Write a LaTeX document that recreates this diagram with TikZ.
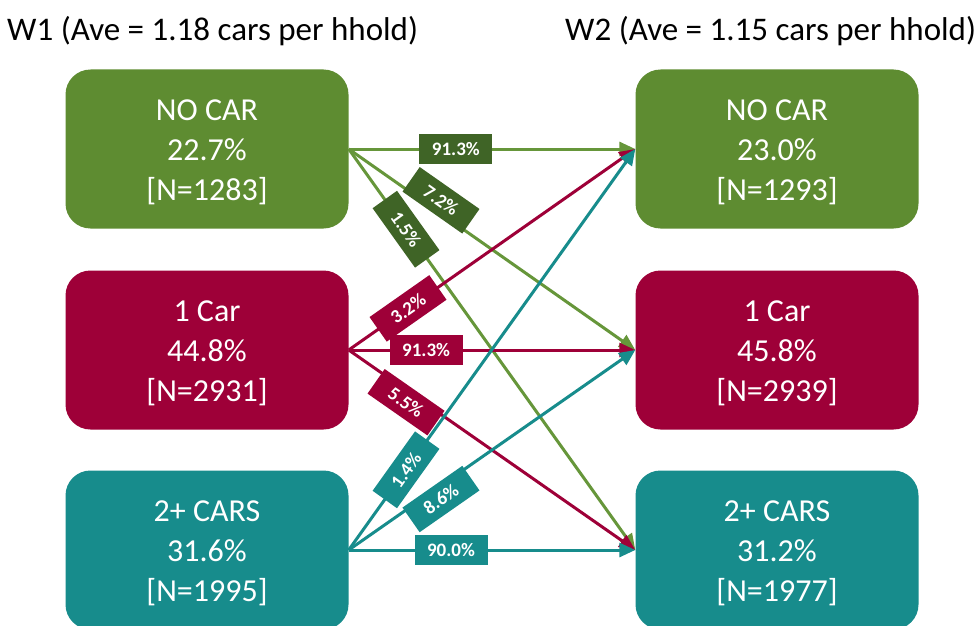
\documentclass[tikz,border=0pt]{standalone}
\usepackage{fontspec}
\setmainfont{Carlito}
\usetikzlibrary{arrows.meta}
\definecolor{cgreen}{HTML}{5E8C31}
\definecolor{cgreenln}{HTML}{66963A}
\definecolor{cgreendk}{HTML}{3F6426}
\definecolor{cred}{HTML}{9E0038}
\definecolor{cteal}{HTML}{178C8C}
\newcommand\toppad{\rule{0pt}{28pt}}
\begin{document}
\begin{tikzpicture}[x=1pt,y=-1pt,
  catbox/.style={rounded corners=25pt, minimum width=283pt, minimum height=159pt,
    text=white, font=\fontsize{32}{40}\selectfont, align=center, inner sep=0pt},
  flow/.style={line width=3pt, -{Triangle[length=16pt,width=14pt]}},
  pct/.style={fill=#1, text=white, font=\fontsize{19}{20}\selectfont\bfseries,
    minimum width=73pt, minimum height=30pt, inner sep=0pt, sloped},
  ttl/.style={font=\fontsize{33}{38}\selectfont, anchor=west, inner sep=0pt}]
\useasboundingbox (0,0) rectangle (977,626);
\fill[white] (0,0) rectangle (977,626);
% titles
\node[ttl] (t1) at (7,31) {W1 (Ave = 1.18 cars per hhold)};
\node[ttl] (t2) at (565,31) {W2 (Ave = 1.15 cars per hhold)};
% boxes
\node[catbox, fill=cgreen] (l1) at (207,149) {\toppad NO CAR\\22.7\%\\{[N=1283]}};
\node[catbox, fill=cred]   (l2) at (207,350) {\toppad 1 Car\\44.8\%\\{[N=2931]}};
\node[catbox, fill=cteal]  (l3) at (207,550) {\toppad 2+ CARS\\31.6\%\\{[N=1995]}};
\node[catbox, fill=cgreen] (r1) at (777,149) {\toppad NO CAR\\23.0\%\\{[N=1293]}};
\node[catbox, fill=cred]   (r2) at (777,350) {\toppad 1 Car\\45.8\%\\{[N=2939]}};
\node[catbox, fill=cteal]  (r3) at (777,550) {\toppad 2+ CARS\\31.2\%\\{[N=1977]}};
% flows
\draw[flow, cgreenln] (l1.east) -- (r1.west);
\draw[flow, cgreenln] (l1.east) -- (r2.west);
\draw[flow, cgreenln] (l1.east) -- (r3.west);
\draw[flow, cred] (l2.east) -- (r1.west);
\draw[flow, cred] (l2.east) -- (r2.west);
\draw[flow, cred] (l2.east) -- (r3.west);
\draw[flow, cteal] (l3.east) -- (r1.west);
\draw[flow, cteal] (l3.east) -- (r2.west);
\draw[flow, cteal] (l3.east) -- (r3.west);
% labels
\path (l1.east) -- node[pct=cgreendk, pos=0.374] (g1) {91.3\%} (r1.west);
\path (l1.east) -- node[pct=cgreendk, pos=0.30, yshift=11pt] (g2) {7.2\%} (r2.west);
\path (l1.east) -- node[pct=cgreendk, pos=0.20] (g3) {1.5\%} (r3.west);
\path (l2.east) -- node[pct=cred, pos=0.207] (m1) {3.2\%} (r1.west);
\path (l2.east) -- node[pct=cred, pos=0.27] (m2) {91.3\%} (r2.west);
\path (l2.east) -- node[pct=cred, pos=0.22, yshift=-10pt] (m3) {5.5\%} (r3.west);
\path (l3.east) -- node[pct=cteal, pos=0.20] (b1) {1.4\%} (r1.west);
\path (l3.east) -- node[pct=cteal, pos=0.30, yshift=-11pt] (b2) {8.6\%} (r2.west);
\path (l3.east) -- node[pct=cteal, pos=0.357] (b3) {90.0\%} (r3.west);
\end{tikzpicture}
\end{document}
